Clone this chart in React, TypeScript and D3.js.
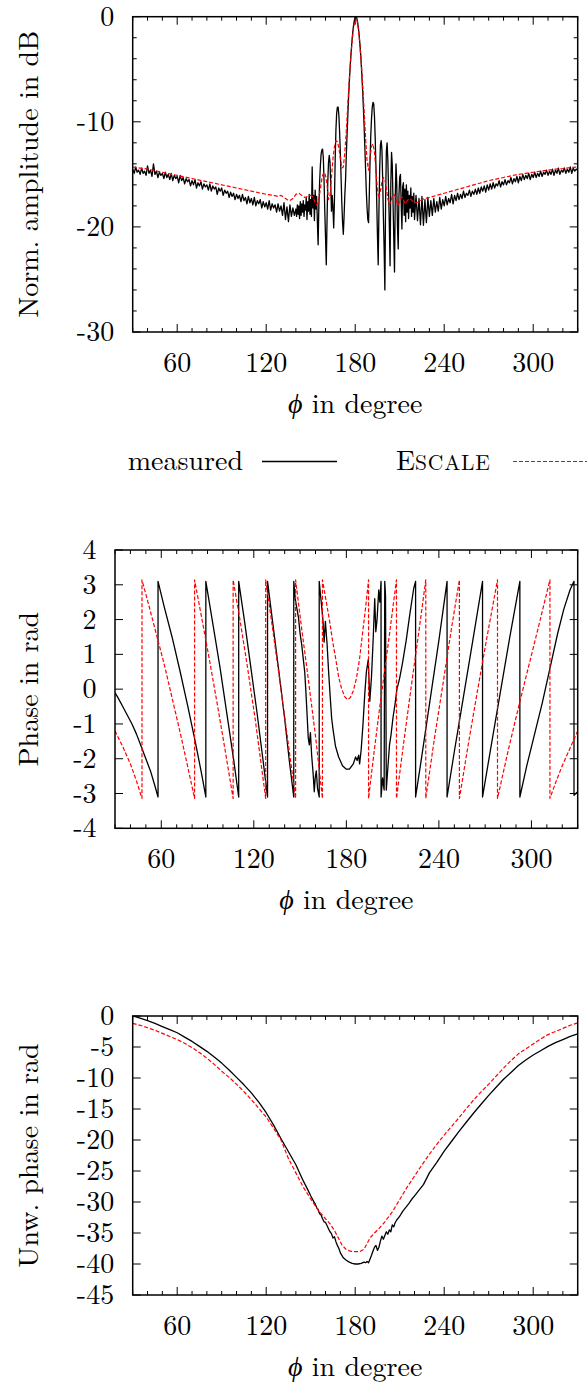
import React from 'react';
import * as d3 from 'd3';

const FONT = 'Latin Modern Roman';
const FS = 28;

// ---------- axes ----------
const phiDomain = [30, 330];
const phiMajorTicks = [60, 120, 180, 240, 300];
const phiMinorTicks = [30, 40, 50, 70, 80, 90, 100, 110, 130, 140, 150, 160, 170, 190, 200, 210, 220, 230, 250, 260, 270, 280, 290, 310, 320, 330];

const ampTicks = [0, -10, -20, -30];
const ampMinorTicks = [-2, -4, -6, -8, -12, -14, -16, -18, -22, -24, -26, -28];
const phaseTicks = [4, 3, 2, 1, 0, -1, -2, -3, -4];
const unwTicks = [0, -5, -10, -15, -20, -25, -30, -35, -40, -45];

// ---------- panel 1 : normalized amplitude (dB) ----------
// measured, 30..139 deg step 1
const ampMeasuredLeft = [
  -14.5, -14.9, -14.3, -14.8, -14.6, -15.0, -14.4, -14.9, -14.7, -15.1,
  -14.2, -14.9, -14.6, -15.2, -14.0, -15.0, -14.7, -15.3, -14.8, -15.1,
  -14.9, -15.4, -14.8, -15.3, -15.0, -15.5, -14.9, -15.6, -15.1, -15.4,
  -15.2, -15.8, -15.1, -15.6, -15.3, -15.9, -15.4, -15.7, -15.5, -16.1,
  -15.6, -16.0, -15.5, -16.3, -15.8, -16.1, -15.7, -16.4, -15.9, -16.2,
  -16.0, -16.5, -15.9, -16.6, -16.1, -16.4, -16.2, -16.9, -16.3, -16.6,
  -16.3, -17.0, -16.5, -16.8, -16.6, -17.2, -16.7, -17.1, -16.8, -17.4,
  -16.9, -17.3, -17.0, -17.6, -16.9, -17.5, -17.2, -17.8, -17.1, -17.7,
  -17.3, -17.9, -17.2, -18.0, -17.5, -17.8, -17.4, -18.2, -17.6, -18.1,
  -17.7, -18.3, -17.5, -18.4, -17.8, -18.2, -17.9, -18.6, -17.8, -18.5,
  -18.0, -18.9, -17.7, -19.3, -18.1, -19.5, -17.9, -19.0, -18.2, -18.9,
];
// measured, 140..220 deg step 0.5
const ampMeasuredCenter = [
  -18.3, -19.0, -17.9, -18.8, -18.0, -19.2, -17.6, -18.9, -17.8, -18.6,
  -17.5, -19.0, -17.9, -18.4, -17.2, -19.3, -17.6, -18.5, -16.9, -18.8,
  -17.4, -19.0, -14.3, -18.2, -17.0, -19.4, -16.5, -18.3, -17.1, -19.5,
  -21.7, -18.0, -15.8, -14.2, -13.1, -12.7, -12.6, -13.4, -15.6, -18.5,
  -21.0, -23.6, -19.5, -15.8, -13.9, -13.2, -13.8, -15.9, -18.5, -17.0,
  -18.2, -20.1, -17.5, -13.6, -10.8, -9.2, -8.6, -8.6, -9.4, -11.0,
  -13.0, -15.4, -17.8, -19.6, -20.7, -19.0, -17.0, -15.5, -13.2, -11.3,
  -9.5, -7.8, -6.3, -5.0, -3.9, -2.9, -2.0, -1.3, -0.7, -0.3,
  -0.05, 0, -0.1, -0.4, -0.9, -1.5, -2.3, -3.2, -4.3, -5.6,
  -7.0, -8.6, -10.4, -12.4, -14.5, -16.6, -18.2, -19.3, -19.6, -17.0,
  -13.8, -11.3, -9.7, -8.6, -8.15, -8.3, -9.5, -11.6, -14.4, -17.5,
  -20.8, -23.6, -18.5, -14.5, -12.2, -11.8, -12.6, -15.3, -19.0, -22.0,
  -26.0, -17.5, -12.8, -12.0, -13.6, -16.5, -19.8, -23.7, -16.0, -12.9,
  -14.1, -17.6, -21.0, -24.3, -17.2, -14.0, -15.8, -20.0, -22.1, -17.0,
  -15.3, -15.0, -17.8, -20.2, -16.2, -15.8, -18.9, -16.4, -19.5, -16.0,
  -18.6, -16.6, -19.2, -17.0, -18.2, -16.3, -19.0, -17.1, -18.6, -16.8,
  -19.3,
];
// measured, 221..330 deg step 1
const ampMeasuredRight = [
  -17.0, -19.4, -17.3, -19.8, -17.1, -19.85, -17.4, -19.6, -17.2, -19.0,
  -17.5, -18.9, -17.3, -18.6, -17.6, -18.5, -17.2, -18.3, -17.4, -18.0,
  -17.1, -17.9, -17.3, -17.7, -16.9, -17.8, -17.0, -17.5, -16.8, -17.4,
  -16.9, -17.3, -16.6, -17.2, -16.8, -17.0, -16.5, -17.1, -16.6, -16.9,
  -16.4, -16.9, -16.3, -16.8, -16.2, -16.6, -16.1, -16.7, -16.0, -16.5,
  -15.9, -16.4, -15.8, -16.3, -15.9, -16.1, -15.6, -16.2, -15.7, -16.0,
  -15.5, -16.0, -15.6, -15.8, -15.3, -15.9, -15.4, -15.7, -15.2, -15.8,
  -15.2, -15.6, -15.0, -15.5, -15.1, -15.4, -14.9, -15.5, -15.0, -15.3,
  -14.8, -15.3, -14.9, -15.2, -14.7, -15.2, -14.8, -15.0, -14.6, -15.1,
  -14.7, -15.0, -14.5, -15.1, -14.6, -14.9, -14.4, -15.0, -14.6, -14.8,
  -14.4, -14.9, -14.5, -14.8, -14.3, -14.9, -14.4, -14.7, -14.5, -14.6,
];
const ampMeasuredPhi = [
  ...d3.range(30, 140, 1),
  ...d3.range(140, 220.25, 0.5),
  ...d3.range(221, 331, 1),
];
const ampMeasured = [...ampMeasuredLeft, ...ampMeasuredCenter, ...ampMeasuredRight];

const escaleAmpPhi = [
  30, 35, 40, 45, 50, 55, 60, 65, 70, 75, 80, 85, 90, 95, 100, 105, 110, 115, 120, 125,
  128, 130, 132, 134, 136, 138, 140, 142, 144, 146, 148, 150,
  151, 152, 153, 154, 155, 156, 157, 158, 159, 160, 161, 162, 163, 164, 165, 166, 167, 168, 169, 170,
  171, 172, 173, 174, 175, 176, 177, 178, 179, 180, 180.5, 181, 182, 183, 184, 185, 186, 187, 188, 189, 190,
  191, 192, 193, 194, 195, 196, 197, 198, 199, 200, 201, 202, 203, 204, 205, 206, 207, 208, 209, 210,
  211, 212, 213, 214, 215, 217, 219, 221, 223, 225, 227, 230, 235, 240, 245, 250, 255, 260, 265, 270,
  275, 280, 285, 290, 295, 300, 305, 310, 315, 320, 325, 330,
];
const escaleAmp = [
  -14.3, -14.4, -14.5, -14.65, -14.8, -14.95, -15.1, -15.25, -15.4, -15.55, -15.7, -15.85, -16.0, -16.15, -16.3, -16.45, -16.6, -16.75, -16.9, -17.0,
  -17.1, -17.0, -17.2, -17.4, -17.5, -17.3, -16.9, -16.8, -17.0, -17.2, -17.1, -17.0,
  -17.1, -17.3, -17.7, -17.9, -17.7, -16.9, -15.9, -15.1, -14.8, -15.1, -16.0, -17.4, -17.0, -15.3, -13.5, -12.4, -11.8, -11.9, -12.5, -13.5,
  -14.4, -14.3, -12.9, -10.9, -8.4, -6.0, -3.9, -2.2, -0.9, -0.15, 0, -0.2, -1.0, -2.4, -4.2, -6.4, -8.9, -11.5, -13.7, -14.6, -13.4,
  -12.3, -12.1, -12.9, -14.6, -16.5, -17.3, -16.6, -15.7, -15.3, -15.5, -16.3, -17.3, -17.9, -17.6, -17.1, -16.9, -17.1, -17.6, -17.9, -17.6,
  -17.2, -17.2, -17.6, -17.8, -17.5, -17.3, -17.6, -17.7, -17.6, -17.4, -17.3, -17.2, -17.0, -16.8, -16.6, -16.4, -16.2, -16.0, -15.8, -15.6,
  -15.45, -15.3, -15.15, -15.0, -14.9, -14.8, -14.7, -14.6, -14.5, -14.45, -14.35, -14.3,
];

// ---------- panel 2 : wrapped phase (rad) ----------
const measuredPhasePhi = [
  30, 32, 35, 38, 41, 44, 47, 50, 53, 56, 57.9,
  57.9, 62, 67, 72, 77, 82, 86, 88.9,
  88.9, 93, 98, 103, 107, 110.2,
  110.2, 114, 118, 122, 126, 128.9,
  128.9, 132, 136, 140, 143, 145.9,
  145.9, 147, 148, 149, 150, 151, 152, 153, 153.8, 154.5, 155.3, 156, 156.7, 157.5, 158.5, 159.2, 159.8, 160.5, 161.3, 162.4,
  162.4, 163.5, 164.8, 165.6, 166.4, 167.5, 168.5, 169.5, 170.5, 171.5, 173, 175, 177.5, 180, 182, 184.5, 186, 187, 188, 188.6,
  189.6, 190.8, 192, 193, 194.2, 195.2, 196.3, 197.4, 198.4, 199.1, 199.9, 201, 201.7, 202.5,
  202.5, 203.5, 204.5, 204.9, 205.4, 205.9, 207, 208, 209, 210.3, 211.5, 212.8, 214.5, 216.4, 218.8, 221.3, 223.7, 224.9,
  224.9, 228, 232, 236, 240, 245.3,
  245.3, 250, 256, 262, 268.3,
  268.3, 274, 280, 286, 292.5,
  292.5, 297, 302, 307, 312, 317, 321, 325, 327.6,
  327.6, 330,
];
const measuredPhase = [
  -0.1, -0.25, -0.5, -0.75, -1.0, -1.3, -1.65, -2.0, -2.35, -2.8, -3.1,
  3.1, 2.35, 1.5, 0.55, -0.45, -1.5, -2.4, -3.1,
  3.1, 2.0, 0.65, -0.85, -2.05, -3.1,
  3.1, 1.95, 0.65, -0.65, -2.05, -3.1,
  3.1, 2.0, 0.6, -0.85, -2.05, -3.1,
  3.1, 2.55, 2.3, 2.05, 1.6, 1.3, 0.9, 0.5, -0.1, -0.7, -1.4, -1.6, -1.25, -1.9, -2.45, -2.95, -2.55, -2.35, -2.85, -3.1,
  3.1, 2.6, 2.0, 1.35, 1.95, 1.3, 0.5, -0.2, -0.85, -1.2, -1.65, -1.95, -2.2, -2.3, -2.3, -2.15, -1.95, -2.05, -1.9, -2.15,
  -1.75, -1.0, -0.1, 0.5, 0.85, -0.35, 0.35, 1.45, 2.6, 1.65, 2.0, 2.85, 2.5, 3.1,
  -3.1, -2.55, -2.9, 3.1, 2.7, -2.9, -2.2, -1.6, -1.3, -0.8, -0.45, 0.0, 0.3, 0.75, 1.4, 2.2, 2.9, 3.1,
  -3.1, -2.2, -1.0, 0.2, 1.4, 3.1,
  -3.1, -1.8, -0.2, 1.4, 3.1,
  -3.1, -1.6, -0.05, 1.5, 3.1,
  -3.1, -2.2, -1.3, -0.4, 0.6, 1.6, 2.3, 2.85, 3.1,
  -3.05, -2.95,
];
const escalePhasePhi = [
  30, 35, 40, 44, 47.5,
  47.5, 52, 57, 62, 67, 72, 77, 81.6,
  81.6, 86, 91, 96, 101, 106.6,
  106.6, 111, 116, 121, 127.7,
  127.7, 132, 137, 142, 147.1,
  147.1, 151, 155, 160, 164.5,
  164.5, 167, 169, 171, 173, 175, 177, 179, 180.7, 182.5, 184.5, 186.5, 188.5, 190.5, 192.5, 194.4,
  194.4, 198, 202, 207, 212.5,
  212.5, 217, 222, 227, 231.5,
  231.5, 237, 243, 248, 253.3,
  253.3, 259, 265, 271, 278,
  278, 285, 292, 299, 306, 312,
  312, 316, 320, 325, 330,
];
const escalePhase = [
  -1.2, -1.65, -2.15, -2.65, -3.14,
  3.14, 2.4, 1.55, 0.7, -0.25, -1.2, -2.2, -3.14,
  3.14, 2.1, 0.9, -0.35, -1.65, -3.14,
  3.14, 2.0, 0.6, -0.9, -3.14,
  3.14, 1.8, 0.2, -1.45, -3.14,
  3.14, 1.75, 0.4, -1.35, -3.14,
  3.14, 2.5, 2.0, 1.4, 0.9, 0.35, 0.0, -0.22, -0.3, -0.25, -0.05, 0.3, 0.85, 1.6, 2.35, 3.14,
  -3.14, -1.8, -0.4, 1.25, 3.14,
  -3.14, -1.6, 0.05, 1.65, 3.14,
  -3.14, -1.45, 0.25, 1.7, 3.14,
  -3.14, -1.6, -0.05, 1.45, 3.14,
  -3.14, -1.75, -0.45, 0.8, 2.05, 3.14,
  -3.14, -2.65, -2.2, -1.7, -1.2,
];

// ---------- panel 3 : unwrapped phase (rad) ----------
const measuredUnwPhi = [
  30, 35, 40, 45, 50, 55, 60, 65, 70, 75, 80, 85, 90, 95, 100, 105, 110, 115, 120, 125, 130, 135, 140, 145,
  148, 150, 152, 153, 154, 155, 156, 157, 158, 159, 160, 161, 162, 163, 164, 165, 166, 167, 168, 169, 170,
  172, 174, 176, 178, 180, 182, 184, 186, 187, 188, 189, 190, 191, 192, 193, 194, 195, 196, 197, 198, 199,
  200, 201, 202, 203, 204, 205, 206, 207, 208, 209, 210, 212, 214, 216, 218, 220, 222, 224, 226, 230, 235,
  240, 245, 250, 255, 260, 265, 270, 275, 280, 285, 290, 295, 300, 305, 310, 315, 320, 325, 330,
];
const measuredUnw = [
  0, -0.35, -0.75, -1.2, -1.7, -2.2, -2.7, -3.4, -4.1, -4.9, -5.7, -6.6, -7.6, -8.7, -9.9, -11.1, -12.4, -13.9, -15.6, -17.6, -19.8, -21.9, -24.0, -26.6,
  -28.0, -29.0, -29.9, -30.3, -30.9, -31.2, -31.9, -32.1, -32.7, -33.2, -33.3, -33.8, -34.3, -34.8, -35.1, -35.8, -35.6, -36.4, -37.0, -37.5, -38.2,
  -39.0, -39.4, -39.7, -39.9, -40.0, -40.0, -39.9, -39.7, -39.8, -39.6, -39.8, -39.2, -38.6, -37.9, -37.3, -37.0, -37.8, -37.3, -36.3, -35.5, -36.0,
  -35.4, -34.8, -35.2, -34.5, -34.8, -33.7, -34.0, -33.3, -32.9, -32.6, -32.3, -31.5, -30.9, -30.3, -29.6, -29.0, -28.4, -27.8, -27.2, -25.3, -23.6,
  -21.8, -20.2, -18.6, -17.1, -15.6, -14.2, -12.8, -11.5, -10.2, -9.1, -8.0, -7.1, -6.3, -5.6, -4.9, -4.3, -3.8, -3.3, -2.9,
];
const escaleUnwPhi = [
  30, 35, 40, 45, 50, 55, 60, 65, 70, 75, 80, 85, 90, 95, 100, 105, 110, 115, 120, 125, 130, 135, 140, 145, 150, 155, 160,
  163, 166, 168, 171, 174, 177, 180, 183, 186, 188, 190, 193, 196, 200, 205, 210, 215, 220, 225, 230,
  235, 240, 245, 250, 255, 260, 265, 270, 275, 280, 285, 290, 295, 300, 305, 310, 315, 320, 325, 330,
];
const escaleUnw = [
  -1.2, -1.5, -1.9, -2.3, -2.8, -3.3, -3.8, -4.4, -5.1, -5.9, -6.8, -7.8, -8.9, -9.9, -11.0, -12.2, -13.5, -14.9, -16.3, -18.1, -20.0, -23.0, -25.3, -27.6, -29.5, -31.3, -32.7,
  -33.5, -34.6, -35.5, -36.9, -37.7, -37.95, -38.0, -38.0, -37.6, -36.7, -35.8, -35.0, -34.3, -33.2, -31.6, -29.6, -27.6, -25.8, -24.0, -22.3,
  -20.7, -19.2, -17.8, -16.4, -14.9, -13.5, -12.2, -11.0, -9.7, -8.4, -7.2, -6.1, -5.3, -4.5, -3.7, -3.0, -2.5, -2.0, -1.5, -1.1,
];

const MEASURED_COLOR = '#000000';
const ESCALE_COLOR = '#ff0000';

type Series = { phi: number[]; val: number[]; color: string; dash?: string; width: number };

type PanelProps = {
  id: string;
  left: number; right: number; top: number; bottom: number;
  yDomain: [number, number];
  yTicks: number[];
  yMinor: number[];
  yTitle: string;
  series: Series[];
};

function Panel({ id, left, right, top, bottom, yDomain, yTicks, yMinor, yTitle, series }: PanelProps) {
  const x = d3.scaleLinear().domain(phiDomain).range([left, right]);
  const y = d3.scaleLinear().domain(yDomain).range([bottom, top]);
  const MAJ = 8, MIN = 4;
  const tickStyle = { stroke: '#000', strokeWidth: 1 };
  return (
    <g>
      <defs>
        <clipPath id={`clip-${id}`}>
          <rect x={left} y={top} width={right - left} height={bottom - top} />
        </clipPath>
      </defs>
      <g clipPath={`url(#clip-${id})`}>
        {series.map((s, i) => {
          const pts: [number, number][] = s.phi.map((p, k) => [x(p), y(s.val[k])]);
          const d = d3.line()(pts) || '';
          return (
            <path key={i} d={d} fill="none" stroke={s.color} strokeWidth={s.width}
              strokeDasharray={s.dash} strokeLinejoin="round" />
          );
        })}
      </g>
      {phiMajorTicks.map((t) => (
        <g key={`xm${t}`}>
          <line x1={x(t)} x2={x(t)} y1={bottom} y2={bottom - MAJ} {...tickStyle} />
          <line x1={x(t)} x2={x(t)} y1={top} y2={top + MAJ} {...tickStyle} />
          <text x={x(t)} y={bottom + 40} textAnchor="middle" fontFamily={FONT} fontSize={FS}>{t}</text>
        </g>
      ))}
      {phiMinorTicks.map((t) => (
        <g key={`xn${t}`}>
          <line x1={x(t)} x2={x(t)} y1={bottom} y2={bottom - MIN} {...tickStyle} />
          <line x1={x(t)} x2={x(t)} y1={top} y2={top + MIN} {...tickStyle} />
        </g>
      ))}
      {yTicks.map((t) => (
        <g key={`ym${t}`}>
          <line x1={left} x2={left + MAJ} y1={y(t)} y2={y(t)} {...tickStyle} />
          <line x1={right} x2={right - MAJ} y1={y(t)} y2={y(t)} {...tickStyle} />
          <text x={left - 18.5} y={y(t) + 9} textAnchor="end" fontFamily={FONT} fontSize={FS}>{String(t)}</text>
        </g>
      ))}
      {yMinor.map((t) => (
        <g key={`yn${t}`}>
          <line x1={left} x2={left + MIN} y1={y(t)} y2={y(t)} {...tickStyle} />
          <line x1={right} x2={right - MIN} y1={y(t)} y2={y(t)} {...tickStyle} />
        </g>
      ))}
      <rect x={left} y={top} width={right - left} height={bottom - top} fill="none" stroke="#000" strokeWidth={1.5} />
      <text x={(left + right) / 2} y={bottom + 81} textAnchor="middle" fontFamily={FONT} fontSize={FS}>
        <tspan fontStyle="italic">ϕ</tspan> in degree
      </text>
      <text transform={`translate(38,${(top + bottom) / 2}) rotate(-90)`} textAnchor="middle"
        fontFamily={FONT} fontSize={FS}>{yTitle}</text>
    </g>
  );
}

export default function App() {
  const measuredStyle = { color: MEASURED_COLOR, width: 1.3 };
  const escaleStyle = { color: ESCALE_COLOR, width: 1.2, dash: '4,2' };
  return (
    <svg width={587} height={1386} viewBox="0 0 587 1386"
      style={{ position: 'absolute', left: 0, top: 0, display: 'block', background: '#fff' }}>
      <rect x={0} y={0} width={587} height={1386} fill="#fff" />
      <Panel id="amp" left={132.7} right={577.7} top={16.7} bottom={332}
        yDomain={[-30, 0]} yTicks={ampTicks} yMinor={ampMinorTicks}
        yTitle="Norm. amplitude in dB"
        series={[
          { phi: ampMeasuredPhi, val: ampMeasured, ...measuredStyle },
          { phi: escaleAmpPhi, val: escaleAmp, ...escaleStyle },
        ]} />
      {/* legend */}
      <text x={243} y={470} textAnchor="end" fontFamily={FONT} fontSize={FS}>measured</text>
      <line x1={262} x2={337} y1={461.5} y2={461.5} stroke={MEASURED_COLOR} strokeWidth={1.3} />
      <text x={396} y={470} fontFamily={FONT} fontSize={FS}>E<tspan fontSize={21.5} letterSpacing={0.8}>SCALE</tspan></text>
      <line x1={513} x2={592} y1={461.5} y2={461.5} stroke={ESCALE_COLOR} strokeWidth={1.2} strokeDasharray="4,2" />

      <Panel id="phase" left={115} right={577.7} top={550} bottom={828.3}
        yDomain={[-4, 4]} yTicks={phaseTicks} yMinor={[]}
        yTitle="Phase in rad"
        series={[
          { phi: measuredPhasePhi, val: measuredPhase, ...measuredStyle },
          { phi: escalePhasePhi, val: escalePhase, ...escaleStyle },
        ]} />
      <Panel id="unw" left={132.7} right={577.7} top={1016} bottom={1295}
        yDomain={[-45, 0]} yTicks={unwTicks} yMinor={[]}
        yTitle="Unw. phase in rad"
        series={[
          { phi: measuredUnwPhi, val: measuredUnw, ...measuredStyle },
          { phi: escaleUnwPhi, val: escaleUnw, ...escaleStyle },
        ]} />
    </svg>
  );
}
